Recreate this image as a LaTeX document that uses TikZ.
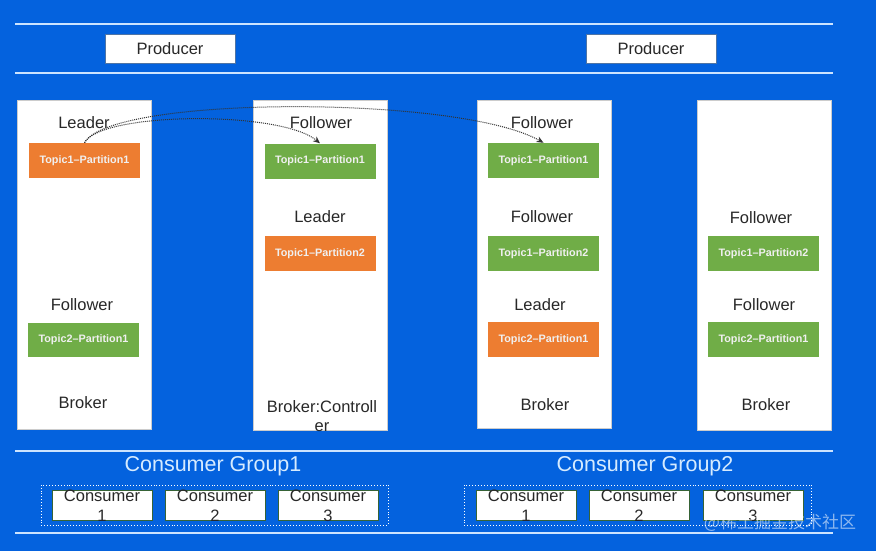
\documentclass[tikz,border=0pt]{standalone}
\usepackage{fontspec}
\setmainfont{Liberation Sans}
\newfontfamily\cjk{Noto Sans CJK SC}
\usetikzlibrary{arrows.meta}
\definecolor{bg}{RGB}{4,98,222}
\definecolor{linec}{RGB}{205,228,255}
\definecolor{org}{RGB}{237,125,49}
\definecolor{grn}{RGB}{112,173,71}
\definecolor{txt}{RGB}{40,40,40}
\definecolor{grp}{RGB}{214,235,255}
\begin{document}
\begin{tikzpicture}[x=1pt,y=-1pt,
  bgline/.style={draw=linec,line width=1.6pt},
  prod/.style={draw=gray!60!bg,line width=0.8pt,fill=white,minimum width=130pt,minimum height=29pt,inner sep=0pt,text=txt,font=\fontsize{16.5}{19}\selectfont},
  broker/.style={draw=gray!40,line width=0.6pt,fill=white,inner sep=0pt,minimum width=134pt},
  part/.style={inner sep=0pt,minimum width=111pt,minimum height=35pt,text=white!94!black,font=\bfseries\fontsize{10.8}{12}\selectfont},
  orangep/.style={part,fill=org},
  greenp/.style={part,fill=grn},
  role/.style={text=txt,inner sep=0pt,font=\fontsize{16.5}{19}\selectfont,align=center},
  cons/.style={draw=gray!70!green!60!black,line width=0.8pt,fill=white,minimum width=100pt,minimum height=30pt,inner sep=0pt},
  constext/.style={text=txt,inner sep=0pt,align=center,font=\fontsize{16.5}{20}\selectfont},
  group/.style={draw=white,dotted,line width=0.9pt,minimum width=347pt,minimum height=40pt,inner sep=0pt},
  grouptext/.style={text=grp,inner sep=0pt,font=\fontsize{21.5}{24}\selectfont},
  repl/.style={draw=black!80,densely dotted,line width=1pt,-{Stealth[length=7pt,width=6pt]}}
]
\fill[bg] (0,0) rectangle (876,551);
\useasboundingbox (0,0) rectangle (876,551);

% separator lines
\draw[bgline] (15,24) -- (833,24);
\draw[bgline] (15,73) -- (833,73);
\draw[bgline] (15,451) -- (833,451);
\draw[bgline] (15,533) -- (833,533);

% producers
\node[prod] (prod1) at (170,48.5) {Producer};
\node[prod] (prod2) at (651,48.5) {Producer};

% brokers
\node[broker,minimum height=329pt] (b1) at (84,264.5) {};
\node[broker,minimum height=330pt] (b2) at (320,265) {};
\node[broker,minimum height=328pt] (b3) at (544,264) {};
\node[broker,minimum height=330pt] (b4) at (764,265) {};

% broker 1
\node[role] (b1r1) at (84,123) {Leader};
\node[orangep] (b1p1) at (84.5,160.5) {Topic1--Partition1};
\node[role] (b1r2) at (82,305) {Follower};
\node[greenp,minimum height=34pt] (b1p2) at (83.5,340) {Topic2--Partition1};
\node[role] (b1n) at (83,403) {Broker};

% broker 2
\node[role] (b2r1) at (321,123) {Follower};
\node[greenp] (b2p1) at (320,161) {Topic1--Partition1};
\node[role] (b2r2) at (320,217) {Leader};
\node[orangep] (b2p2) at (320,253.5) {Topic1--Partition2};
\node[role] (b2n) at (322,416) {Broker:Controll\\er};

% broker 3
\node[role] (b3r1) at (542,123) {Follower};
\node[greenp] (b3p1) at (543.5,160.5) {Topic1--Partition1};
\node[role] (b3r2) at (542,217) {Follower};
\node[greenp] (b3p2) at (543.5,253.5) {Topic1--Partition2};
\node[role] (b3r3) at (540,305) {Leader};
\node[orangep] (b3p3) at (543.5,339.5) {Topic2--Partition1};
\node[role] (b3n) at (545,405) {Broker};

% broker 4
\node[role] (b4r1) at (761,218) {Follower};
\node[greenp] (b4p1) at (763.5,253.5) {Topic1--Partition2};
\node[role] (b4r2) at (764,305) {Follower};
\node[greenp] (b4p2) at (763.5,339.5) {Topic2--Partition1};
\node[role] (b4n) at (766,405) {Broker};

% replication arrows
\draw[repl] (b1p1.north) .. controls (100,112) and (280,110) .. (b2p1.north);
\draw[repl] (b1p1.north) .. controls (110,95) and (460,95) .. (b3p1.north);

% consumer groups
\node[grouptext] (g1t) at (213,466) {Consumer Group1};
\node[grouptext] (g2t) at (645,466) {Consumer Group2};
\node[group] (g1) at (214.5,505) {};
\node[group] (g2) at (637.5,505) {};

\node[cons] (c11) at (102,505) {};
\node[cons] (c12) at (215,505) {};
\node[cons] (c13) at (328,505) {};
\node[cons] (c21) at (526,505) {};
\node[cons] (c22) at (639,505) {};
\node[cons] (c23) at (753,505) {};
\node[constext] (c11t) at (102,506) {Consumer\\1};
\node[constext] (c12t) at (215,506) {Consumer\\2};
\node[constext] (c13t) at (328,506) {Consumer\\3};
\node[constext] (c21t) at (526,506) {Consumer\\1};
\node[constext] (c22t) at (639,506) {Consumer\\2};
\node[constext] (c23t) at (753,506) {Consumer\\3};

% watermark
\node[text=white,opacity=0.55,inner sep=0pt,font=\cjk\fontsize{17}{20}\selectfont] (wm) at (780,523) {@稀土掘金技术社区};
\end{tikzpicture}
\end{document}
